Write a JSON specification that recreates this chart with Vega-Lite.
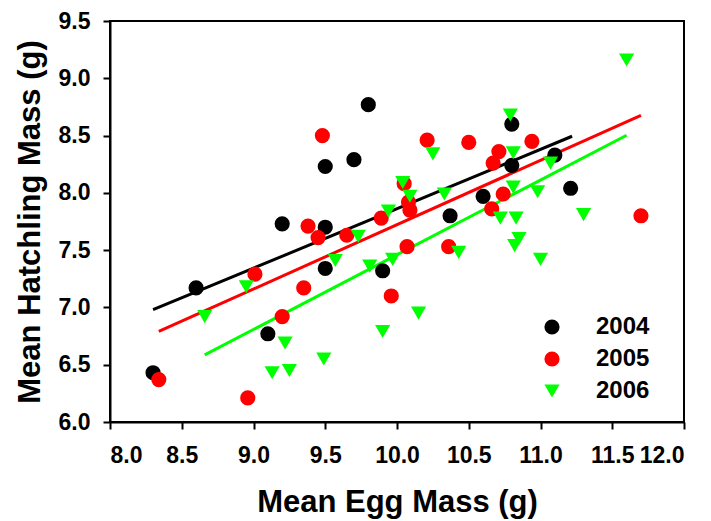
{
  "$schema": "https://vega.github.io/schema/vega-lite/v6.json",
  "width": 574,
  "height": 401,
  "autosize": {"type": "none"},
  "padding": {"left": 110, "top": 21, "right": 27, "bottom": 99},
  "background": "white",
  "config": {
    "view": {"stroke": "black", "strokeWidth": 2},
    "font": "Liberation Sans",
    "axis": {
      "grid": false,
      "domainColor": "black",
      "domainWidth": 2,
      "tickColor": "black",
      "tickWidth": 2,
      "tickSize": 7,
      "labelFont": "Liberation Sans",
      "labelFontWeight": "bold",
      "labelFontSize": 23,
      "labelColor": "black",
      "titleFont": "Liberation Sans",
      "titleFontWeight": "bold",
      "titleFontSize": 31,
      "titleColor": "black"
    },
    "legend": {
      "labelFont": "Liberation Sans",
      "labelFontWeight": "bold",
      "labelFontSize": 24,
      "labelColor": "black",
      "symbolSize": 230,
      "symbolStrokeWidth": 0,
      "rowPadding": 8,
      "labelOffset": 32,
      "padding": 0
    }
  },
  "datasets": {
    "pts": [
      {"year": "2004", "egg": 8.30, "hatch": 6.43},
      {"year": "2004", "egg": 8.60, "hatch": 7.17},
      {"year": "2004", "egg": 9.10, "hatch": 6.77},
      {"year": "2004", "egg": 9.20, "hatch": 7.73},
      {"year": "2004", "egg": 9.50, "hatch": 7.70},
      {"year": "2004", "egg": 9.50, "hatch": 7.34},
      {"year": "2004", "egg": 9.50, "hatch": 8.23},
      {"year": "2004", "egg": 9.70, "hatch": 8.29},
      {"year": "2004", "egg": 9.80, "hatch": 8.77},
      {"year": "2004", "egg": 9.90, "hatch": 7.32},
      {"year": "2004", "egg": 10.37, "hatch": 7.80},
      {"year": "2004", "egg": 10.60, "hatch": 7.97},
      {"year": "2004", "egg": 10.80, "hatch": 8.60},
      {"year": "2004", "egg": 10.80, "hatch": 8.24},
      {"year": "2004", "egg": 11.10, "hatch": 8.33},
      {"year": "2004", "egg": 11.21, "hatch": 8.04},
      {"year": "2005", "egg": 8.34, "hatch": 6.37},
      {"year": "2005", "egg": 8.96, "hatch": 6.21},
      {"year": "2005", "egg": 9.01, "hatch": 7.29},
      {"year": "2005", "egg": 9.20, "hatch": 6.92},
      {"year": "2005", "egg": 9.35, "hatch": 7.17},
      {"year": "2005", "egg": 9.38, "hatch": 7.71},
      {"year": "2005", "egg": 9.45, "hatch": 7.61},
      {"year": "2005", "egg": 9.48, "hatch": 8.50},
      {"year": "2005", "egg": 9.65, "hatch": 7.63},
      {"year": "2005", "egg": 9.89, "hatch": 7.78},
      {"year": "2005", "egg": 9.96, "hatch": 7.10},
      {"year": "2005", "egg": 10.05, "hatch": 8.08},
      {"year": "2005", "egg": 10.08, "hatch": 7.92},
      {"year": "2005", "egg": 10.09, "hatch": 7.85},
      {"year": "2005", "egg": 10.07, "hatch": 7.53},
      {"year": "2005", "egg": 10.21, "hatch": 8.46},
      {"year": "2005", "egg": 10.36, "hatch": 7.53},
      {"year": "2005", "egg": 10.50, "hatch": 8.44},
      {"year": "2005", "egg": 10.66, "hatch": 7.86},
      {"year": "2005", "egg": 10.67, "hatch": 8.26},
      {"year": "2005", "egg": 10.71, "hatch": 8.36},
      {"year": "2005", "egg": 10.74, "hatch": 7.99},
      {"year": "2005", "egg": 10.94, "hatch": 8.45},
      {"year": "2005", "egg": 11.70, "hatch": 7.80},
      {"year": "2006", "egg": 8.66, "hatch": 6.92},
      {"year": "2006", "egg": 8.95, "hatch": 7.18},
      {"year": "2006", "egg": 9.13, "hatch": 6.43},
      {"year": "2006", "egg": 9.22, "hatch": 6.69},
      {"year": "2006", "egg": 9.25, "hatch": 6.45},
      {"year": "2006", "egg": 9.49, "hatch": 6.55},
      {"year": "2006", "egg": 9.57, "hatch": 7.41},
      {"year": "2006", "egg": 9.73, "hatch": 7.62},
      {"year": "2006", "egg": 9.81, "hatch": 7.36},
      {"year": "2006", "egg": 9.90, "hatch": 6.79},
      {"year": "2006", "egg": 9.94, "hatch": 7.84},
      {"year": "2006", "egg": 9.97, "hatch": 7.42},
      {"year": "2006", "egg": 10.04, "hatch": 8.09},
      {"year": "2006", "egg": 10.09, "hatch": 7.97},
      {"year": "2006", "egg": 10.15, "hatch": 6.95},
      {"year": "2006", "egg": 10.25, "hatch": 8.34},
      {"year": "2006", "egg": 10.33, "hatch": 7.99},
      {"year": "2006", "egg": 10.43, "hatch": 7.48},
      {"year": "2006", "egg": 10.72, "hatch": 7.78},
      {"year": "2006", "egg": 10.79, "hatch": 8.68},
      {"year": "2006", "egg": 10.81, "hatch": 8.35},
      {"year": "2006", "egg": 10.81, "hatch": 8.05},
      {"year": "2006", "egg": 10.83, "hatch": 7.78},
      {"year": "2006", "egg": 10.82, "hatch": 7.54},
      {"year": "2006", "egg": 10.85, "hatch": 7.60},
      {"year": "2006", "egg": 10.98, "hatch": 8.01},
      {"year": "2006", "egg": 11.00, "hatch": 7.42},
      {"year": "2006", "egg": 11.07, "hatch": 8.26},
      {"year": "2006", "egg": 11.30, "hatch": 7.81},
      {"year": "2006", "egg": 11.60, "hatch": 9.16}
    ],
    "fits": [
      {"year": "2004", "egg": 8.30, "hatch": 6.98},
      {"year": "2004", "egg": 11.22, "hatch": 8.494},
      {"year": "2005", "egg": 8.34, "hatch": 6.79},
      {"year": "2005", "egg": 11.70, "hatch": 8.677},
      {"year": "2006", "egg": 8.66, "hatch": 6.586},
      {"year": "2006", "egg": 11.60, "hatch": 8.503}
    ]
  },
  "layer": [
    {
      "data": {"name": "fits"},
      "transform": [{"filter": "datum.year === '2004'"}],
      "mark": {"type": "line", "strokeWidth": 3, "stroke": "#000000"},
      "encoding": {
        "x": {"field": "egg", "type": "quantitative"},
        "y": {"field": "hatch", "type": "quantitative"}
      }
    },
    {
      "data": {"name": "fits"},
      "transform": [{"filter": "datum.year === '2005'"}],
      "mark": {"type": "line", "strokeWidth": 3, "stroke": "#ff0000"},
      "encoding": {
        "x": {"field": "egg", "type": "quantitative"},
        "y": {"field": "hatch", "type": "quantitative"}
      }
    },
    {
      "data": {"name": "fits"},
      "transform": [{"filter": "datum.year === '2006'"}],
      "mark": {"type": "line", "strokeWidth": 3, "stroke": "#00ff00"},
      "encoding": {
        "x": {"field": "egg", "type": "quantitative"},
        "y": {"field": "hatch", "type": "quantitative"}
      }
    },
    {
      "data": {"name": "pts"},
      "mark": {"type": "point", "filled": true, "opacity": 1, "size": 230},
      "encoding": {
        "x": {
          "field": "egg",
          "type": "quantitative",
          "scale": {"domain": [8, 12], "nice": false, "zero": false},
          "axis": {"values": [8, 8.5, 9, 9.5, 10, 10.5, 11, 11.5, 12], "format": ".1f", "labelPadding": 15, "titlePadding": 20},
          "title": "Mean Egg Mass (g)"
        },
        "y": {
          "field": "hatch",
          "type": "quantitative",
          "scale": {"domain": [6, 9.5], "nice": false, "zero": false},
          "axis": {"values": [6, 6.5, 7, 7.5, 8, 8.5, 9, 9.5], "format": ".1f", "labelPadding": 13, "titlePadding": 12},
          "title": "Mean Hatchling Mass (g)"
        },
        "color": {
          "field": "year",
          "type": "nominal",
          "scale": {"domain": ["2004", "2005", "2006"], "range": ["#000000", "#ff0000", "#00ff00"]},
          "legend": {"title": null, "orient": "none", "legendX": 430, "legendY": 294}
        },
        "shape": {
          "field": "year",
          "type": "nominal",
          "scale": {"domain": ["2004", "2005", "2006"], "range": ["circle", "circle", "triangle-down"]},
          "legend": {"title": null, "orient": "none", "legendX": 430, "legendY": 294}
        }
      }
    }
  ]
}
